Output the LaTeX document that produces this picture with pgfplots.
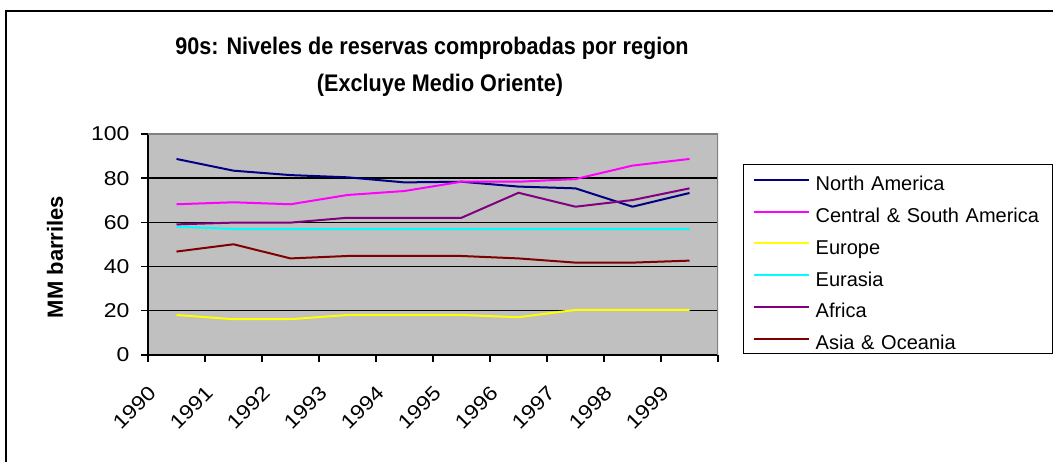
\documentclass[border=0pt]{standalone}
\usepackage{pgfplots}
\pgfplotsset{compat=1.18}
\usepackage{fontspec}
\setmainfont{Liberation Sans}
\usepackage{graphicx}
\definecolor{plotgray}{HTML}{C0C0C0}
\definecolor{bordergray}{HTML}{808080}
\definecolor{cNA}{HTML}{000080}
\definecolor{cCSA}{HTML}{FF00FF}
\definecolor{cEU}{HTML}{FFFF00}
\definecolor{cEA}{HTML}{00FFFF}
\definecolor{cAF}{HTML}{800080}
\definecolor{cAO}{HTML}{800000}
\newcommand{\wx}[1]{\scalebox{1.15}[1]{#1}}
\begin{document}
\begin{tikzpicture}[x=1pt,y=1pt]
\path[use as bounding box] (0pt,0pt) rectangle (1053pt,462pt);
\fill[white] (0pt,0pt) rectangle (1053pt,462pt);
\draw[line width=1.5pt] (6pt,-20pt) rectangle (1090pt,451pt);
\node[font=\fontsize{24}{26}\selectfont\bfseries] at (432pt,414pt) {\scalebox{0.9}[1]{90s: Niveles de reservas comprobadas por region}};
\node[font=\fontsize{24}{26}\selectfont\bfseries] at (440pt,377pt) {\scalebox{0.9}[1]{(Excluye Medio Oriente)}};
\node[font=\fontsize{22}{24}\selectfont\bfseries, rotate=90] at (55pt,205pt) {MM barriles};
\begin{axis}[
  at={(148pt,107pt)}, anchor=south west,
  scale only axis, width=570pt, height=221pt,
  xmin=0, xmax=10, ymin=0, ymax=100,
  axis x line*=bottom, axis y line*=left,
  axis line style={line width=1.6pt, black},
  axis background/.style={fill=plotgray},
  xtick={0,1,2,3,4,5,6,7,8,9,10},
  xticklabels={\wx{1990},\wx{1991},\wx{1992},\wx{1993},\wx{1994},\wx{1995},\wx{1996},\wx{1997},\wx{1998},\wx{1999},{}},
  ytick={0,20,40,60,80,100},
  yticklabel={\wx{\pgfmathprintnumber{\tick}}},
  tick align=outside, major tick length=7pt,
  tick style={line width=1.4pt, black},
  ymajorgrids, grid style={line width=1.4pt, black},
  /pgf/number format/assume math mode=true,
  ticklabel style={font=\fontsize{20}{22}\selectfont},
  xticklabel style={yshift=-17.5pt, rotate=45, anchor=north east},
  yticklabel style={xshift=-8pt},
  legend style={at={(1.0439,0.864)}, anchor=north west, draw=black, line width=1.3pt,
    font=\fontsize{20}{22}\selectfont, inner xsep=9pt, inner ysep=2pt, row sep=5.8pt,
    cells={anchor=west},
    nodes={inner ysep=0pt, text height=24pt, text depth=2pt},
    /tikz/every odd column/.append style={column sep=4pt},
    /tikz/every even column/.append style={text width=226pt}},
  legend image code/.code={\draw[#1, line width=2pt] (0pt,0pt) -- (55pt,0pt);},
  every axis plot/.append style={line width=2pt, mark=none},
]
\addplot[cNA] coordinates {(0.5,88.7) (1.5,83.4) (2.5,81.4) (3.5,80.4) (4.5,78.1) (5.5,78.4) (6.5,76.2) (7.5,75.4) (8.5,67.1) (9.5,73.3)};
\addlegendentry{\mbox{North America}}
\addplot[cCSA] coordinates {(0.5,68.2) (1.5,69.1) (2.5,68.2) (3.5,72.4) (4.5,74.2) (5.5,78.4) (6.5,78.4) (7.5,79.6) (8.5,85.7) (9.5,88.7)};
\addlegendentry{\mbox{Central \& South America}}
\addplot[cEU] coordinates {(0.5,18.1) (1.5,16.2) (2.5,16.2) (3.5,18.1) (4.5,18.1) (5.5,18.1) (6.5,17.1) (7.5,20.4) (8.5,20.4) (9.5,20.4)};
\addlegendentry{\mbox{Europe}}
\addplot[cEA] coordinates {(0.5,58.1) (1.5,57.0) (2.5,57.0) (3.5,57.0) (4.5,57.0) (5.5,57.0) (6.5,57.0) (7.5,57.0) (8.5,57.0) (9.5,57.0)};
\addlegendentry{\mbox{Eurasia}}
\addplot[cAF] coordinates {(0.5,59.1) (1.5,59.9) (2.5,59.9) (3.5,62.1) (4.5,62.1) (5.5,62.1) (6.5,73.4) (7.5,67.1) (8.5,70.1) (9.5,75.4)};
\addlegendentry{\mbox{Africa}}
\addplot[cAO] coordinates {(0.5,46.8) (1.5,50.1) (2.5,43.7) (3.5,44.8) (4.5,44.8) (5.5,44.8) (6.5,43.7) (7.5,41.8) (8.5,41.8) (9.5,42.7)};
\addlegendentry{\mbox{Asia \& Oceania}}
\draw[bordergray, line width=1.4pt] (rel axis cs:0,1) -- (rel axis cs:1,1) -- (rel axis cs:1,0);
\end{axis}
\end{tikzpicture}
\end{document}
